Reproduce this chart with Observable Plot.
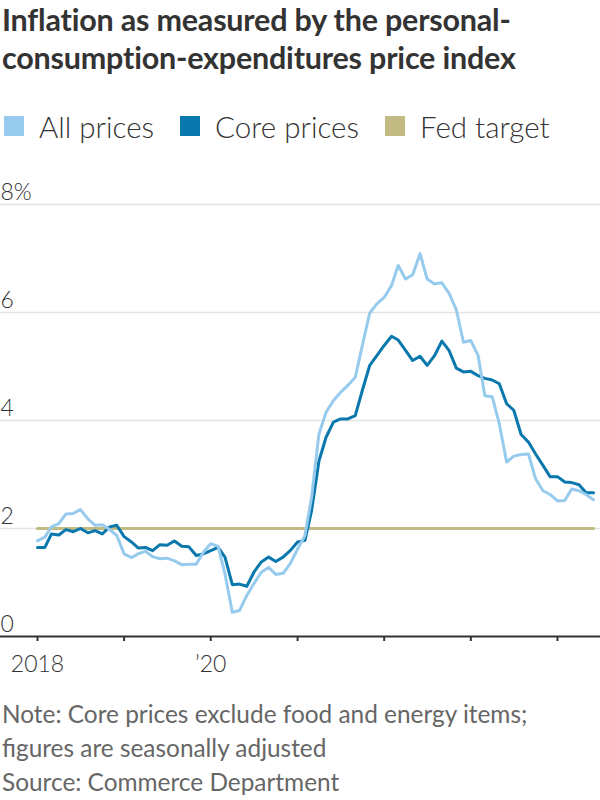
<!DOCTYPE html>
<html>
<head>
<meta charset="utf-8">
<script src="https://cdn.jsdelivr.net/npm/d3@7"></script>
<script src="https://cdn.jsdelivr.net/npm/@observablehq/plot@0.6"></script>
<style>
  body { margin: 0; background: #fff; }
  #wrap { position: relative; width: 600px; height: 800px; overflow: hidden; font-family: Lato, "Noto Sans", sans-serif; color: #333; }
  #title { position: absolute; left: 2px; top: 0px; font-weight: 700; font-size: 30.5px; line-height: 38px; color: #333; letter-spacing: -0.2px; white-space: nowrap; }
  #legend { position: absolute; left: 4px; top: 108px; display: flex; align-items: center; height: 36px; }
  .item { display: flex; align-items: center; margin-right: 26px; }
  .sw { width: 20px; height: 20px; margin-right: 15px; }
  .lab { font-size: 29.5px; font-weight: 300; color: #333; white-space: nowrap; }
  #chart { position: absolute; left: 0; top: 170px; }
  #notes { position: absolute; left: 2px; top: 697px; font-size: 24.4px; line-height: 34px; color: #666; font-weight: 400; white-space: nowrap; }
</style>
</head>
<body>
<div id="wrap">
  <div id="title">Inflation as measured by the personal-<br>consumption-expenditures price index</div>
  <div id="legend"></div>
  <div id="chart"></div>
  <div id="notes">Note: Core prices exclude food and energy items;<br>figures are seasonally adjusted<br>Source: Commerce Department</div>
</div>
<script>
// Monthly, Jan 2018 – Jun 2024, year-over-year % change
const startYear = 2018;
const allPrices = [
  1.77, 1.84, 2.03, 2.09, 2.27, 2.28, 2.35, 2.18, 2.06, 2.07, 1.98, 1.87,
  1.53, 1.46, 1.53, 1.58, 1.48, 1.44, 1.45, 1.40, 1.33, 1.34, 1.34, 1.56,
  1.72, 1.67, 1.16, 0.45, 0.48, 0.76, 0.98, 1.19, 1.28, 1.15, 1.17, 1.35,
  1.62, 1.87, 2.58, 3.75, 4.15, 4.37, 4.52, 4.65, 4.80, 5.39, 5.99, 6.16,
  6.28, 6.50, 6.87, 6.62, 6.70, 7.09, 6.62, 6.53, 6.55, 6.36, 6.05, 5.45,
  5.48, 5.20, 4.46, 4.44, 3.94, 3.23, 3.34, 3.37, 3.38, 2.92, 2.70, 2.63,
  2.51, 2.52, 2.73, 2.70, 2.63, 2.53
];
const corePrices = [
  1.65, 1.65, 1.90, 1.88, 1.98, 1.94, 2.00, 1.92, 1.96, 1.90, 2.03, 2.06,
  1.85, 1.75, 1.64, 1.65, 1.59, 1.70, 1.69, 1.77, 1.67, 1.66, 1.50, 1.53,
  1.59, 1.65, 1.47, 0.96, 0.97, 0.93, 1.19, 1.38, 1.47, 1.39, 1.47, 1.59,
  1.75, 1.78, 2.33, 3.25, 3.69, 3.97, 4.03, 4.03, 4.09, 4.56, 5.02, 5.20,
  5.39, 5.56, 5.49, 5.30, 5.11, 5.19, 5.02, 5.20, 5.47, 5.30, 4.97, 4.90,
  4.91, 4.83, 4.78, 4.75, 4.68, 4.31, 4.19, 3.74, 3.60, 3.38, 3.17, 2.96,
  2.96, 2.86, 2.85, 2.81, 2.66, 2.66
];
const fedTarget = 2;
const seriesNames = ["All prices", "Core prices", "Fed target"];
const seriesColors = ["#97cbee", "#0a77ad", "#c1ba83"];
const yTicks = [0, 2, 4, 6, 8];
const yTickLabels = ["0", "2", "4", "6", "8%"];
const xTickYears = [2018, 2019, 2020, 2021, 2022, 2023, 2024];
const xTickLabels = ["2018", "", "\u201920", "", "", "", ""];

const dateOf = i => new Date(Date.UTC(startYear, i, 1));
const allData = allPrices.map((v, i) => ({date: dateOf(i), value: v}));
const coreData = corePrices.map((v, i) => ({date: dateOf(i), value: v}));
const lastDate = dateOf(allPrices.length - 1);
const targetData = [{date: dateOf(0), value: fedTarget}, {date: lastDate, value: fedTarget}];
const tickDates = xTickYears.map(y => new Date(Date.UTC(y, 0, 1)));
const labelByYear = new Map(xTickYears.map((y, i) => [y, xTickLabels[i]]));
const yLabelMap = new Map(yTicks.map((t, i) => [t, yTickLabels[i]]));

// Legend
const legend = document.getElementById("legend");
seriesNames.forEach((n, i) => {
  const it = document.createElement("div"); it.className = "item";
  const sw = document.createElement("div"); sw.className = "sw"; sw.style.background = seriesColors[i];
  const lb = document.createElement("div"); lb.className = "lab"; lb.textContent = n;
  it.appendChild(sw); it.appendChild(lb); legend.appendChild(it);
});

const mL = 37, mR = 7;
const chart = Plot.plot({
  width: 600,
  height: 520,
  marginTop: 34,
  marginBottom: 54,
  marginLeft: mL,
  marginRight: mR,
  x: {type: "utc", domain: [dateOf(0), lastDate]},
  y: {domain: [0, 8], axis: null},
  style: {fontFamily: "Lato, 'Noto Sans', sans-serif", background: "#fff", color: "#333", overflow: "visible"},
  marks: [
    Plot.ruleY(yTicks.filter(t => t > 0), {stroke: "#e3e3e3", strokeWidth: 1.5, insetLeft: -mL, insetRight: -mR}),
    Plot.text(yTicks, {
      y: d => d, text: d => yLabelMap.get(d),
      frameAnchor: "left", textAnchor: "start", lineAnchor: "bottom",
      dx: -mL, dy: -5, fontSize: 23, fill: "#333", fontWeight: 300
    }),
    Plot.line(targetData, {x: "date", y: "value", stroke: seriesColors[2], strokeWidth: 3}),
    Plot.line(coreData, {x: "date", y: "value", stroke: seriesColors[1], strokeWidth: 3, strokeLinejoin: "round", strokeLinecap: "round"}),
    Plot.line(allData, {x: "date", y: "value", stroke: seriesColors[0], strokeWidth: 3, strokeLinejoin: "round", strokeLinecap: "round"}),
    Plot.ruleY([0], {stroke: "#333", strokeWidth: 2, insetLeft: -mL, insetRight: -mR}),
    Plot.axisX(tickDates, {
      tickSize: 5, tickPadding: 14, stroke: "#333", strokeWidth: 2,
      tickFormat: d => labelByYear.get(d.getUTCFullYear()),
      fontSize: 23, fill: "#333", fontWeight: 300, label: null
    })
  ]
});
document.getElementById("chart").appendChild(chart);
</script>
</body>
</html>
